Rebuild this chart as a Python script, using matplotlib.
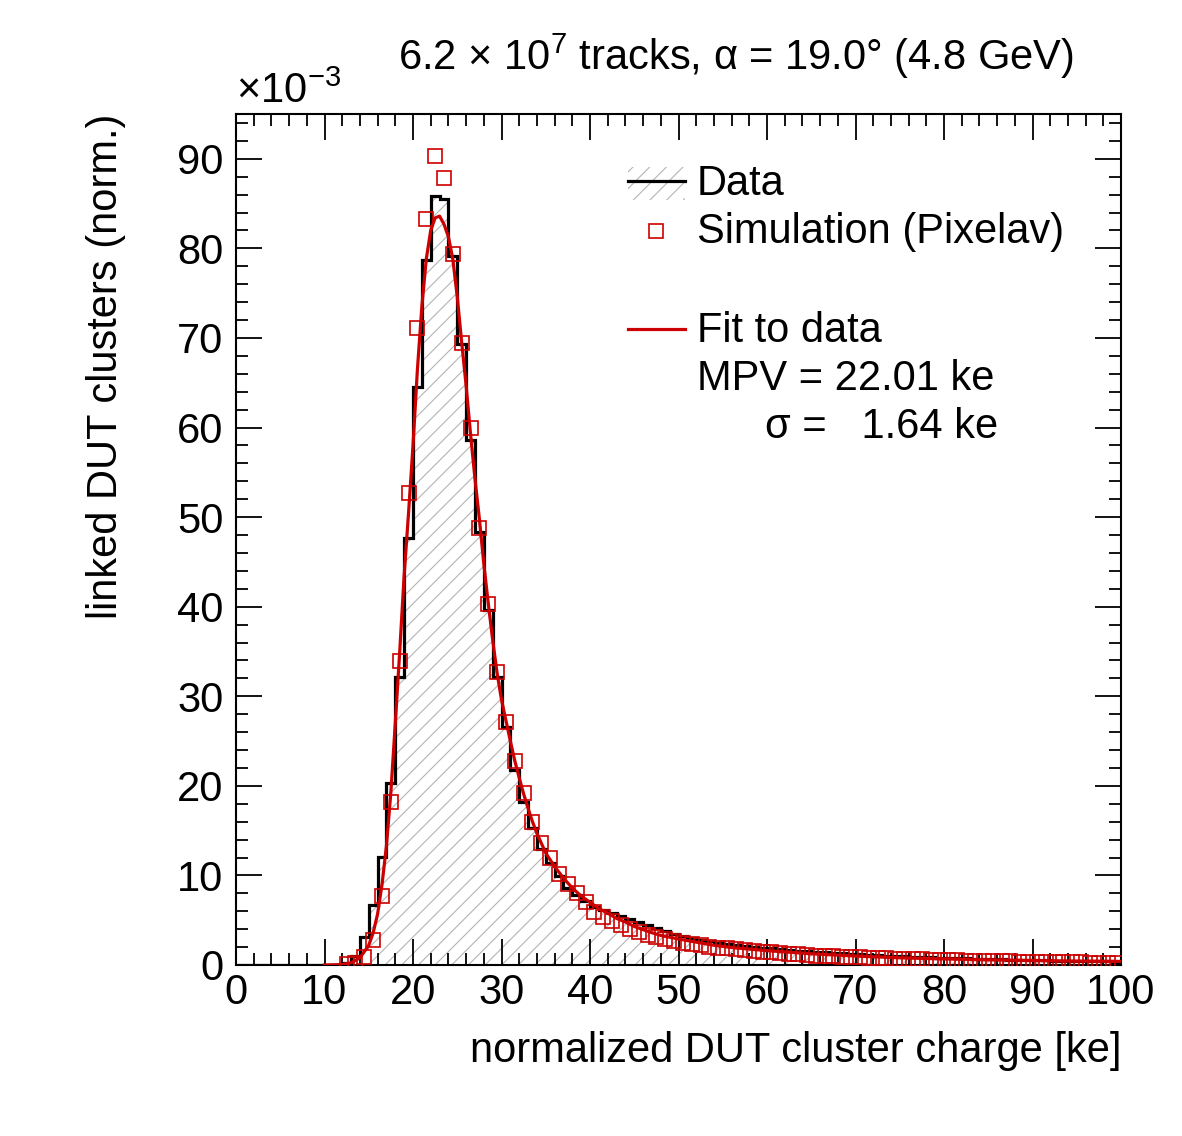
import numpy as np
import matplotlib
matplotlib.use("Agg")
import matplotlib.pyplot as plt
from matplotlib.patches import Rectangle
from matplotlib.lines import Line2D

# --- data (values in units of 10^-3) ---
bin_edges = np.arange(0, 101, 1)  # 1 ke bins, 0..100 ke

data_counts = [
    0, 0, 0, 0, 0, 0, 0, 0, 0, 0, 0, 0,
    0.2, 1.0, 3.1, 6.7, 12.1, 20.3, 32.2, 47.7, 64.5, 78.7,
    85.8, 85.5, 79.1, 69.3, 58.6, 48.3, 39.6, 32.2, 26.6, 21.8,
    18.2, 15.3, 13.0, 11.4, 9.9, 8.6, 7.8, 7.1, 6.5, 6.1,
    5.8, 5.5, 5.1, 4.8, 4.5, 4.1, 3.8, 3.5, 3.2, 3.0,
    2.8, 2.65, 2.5, 2.4, 2.25, 2.15, 2.05, 1.95, 1.85, 1.75,
    1.7, 1.6, 1.55, 1.5, 1.4, 1.35, 1.3, 1.25, 1.2, 1.15,
    1.1, 1.05, 1.0, 0.95, 0.92, 0.88, 0.85, 0.82, 0.8, 0.77,
    0.74, 0.71, 0.68, 0.65, 0.63, 0.6, 0.58, 0.56, 0.54, 0.52,
    0.5, 0.48, 0.46, 0.45, 0.43, 0.42, 0.4, 0.39,
]

sim_charge = np.arange(12.5, 100.0, 1.0)  # bin centres
sim_counts = [
    0.1, 0.2, 0.9, 2.8, 7.7, 18.2, 33.9, 52.7, 71.1, 83.3,
    90.3, 87.8, 79.4, 69.4, 60.0, 48.8, 40.3, 32.7, 27.1, 22.8,
    19.2, 16.0, 13.6, 11.9, 10.2, 9.0, 8.0, 7.0, 5.9, 5.4,
    4.9, 4.5, 4.0, 3.7, 3.3, 3.1, 2.9, 2.7, 2.5, 2.35,
    2.2, 2.05, 1.95, 1.85, 1.75, 1.65, 1.55, 1.45, 1.4, 1.3,
    1.25, 1.2, 1.1, 1.05, 1.0, 0.95, 0.9, 0.88, 0.85, 0.8,
    0.78, 0.75, 0.7, 0.68, 0.65, 0.62, 0.6, 0.57, 0.55, 0.52,
    0.5, 0.48, 0.46, 0.44, 0.42, 0.4, 0.38, 0.37, 0.35, 0.33,
    0.32, 0.3, 0.29, 0.28, 0.26, 0.25, 0.24, 0.23,
]

fit_x = [10, 12, 13, 14, 15, 15.5, 16, 16.5, 17, 17.5, 18, 18.5, 19, 19.5,
         20, 20.5, 21, 21.5, 22, 22.5, 23, 23.5, 24, 24.5, 25, 25.5, 26, 26.5,
         27, 27.5, 28, 28.5, 29, 29.5, 30, 30.5, 31, 31.5, 32, 32.5, 33, 33.5,
         34, 35, 36, 37, 38, 39, 40, 41, 42, 43, 44, 45, 46, 47, 48, 50, 52,
         54, 56, 60, 65, 70, 75, 80, 85, 90, 95, 100]
fit_y = [0, 0.05, 0.25, 0.8, 2.2, 3.6, 5.7, 9.0, 13.3, 19.3, 27, 35, 43.5, 50.5,
         58, 66.5, 73.5, 78.8, 82, 83.4, 83.6, 82.7, 81.3, 78.8, 74.6, 69.5, 64.7, 59.3,
         54.3, 49.8, 44.8, 40.4, 36.3, 32.6, 29.6, 27.3, 25.0, 22.8, 20.9, 19.1, 17.5, 16.0,
         14.7, 12.5, 11.0, 9.7, 8.6, 7.7, 7.0, 6.3, 5.8, 5.2, 4.8, 4.3, 3.95, 3.6, 3.3, 2.9, 2.55,
         2.2, 1.95, 1.6, 1.25, 1.0, 0.8, 0.68, 0.58, 0.5, 0.44, 0.4]

x_ticks = list(range(0, 101, 10))
y_ticks = list(range(0, 91, 10))

RED = "#cc0000"
FS = 30

plt.rcParams["font.family"] = ["Liberation Sans", "DejaVu Sans"]
plt.rcParams["font.size"] = FS
plt.rcParams["mathtext.fontset"] = "custom"
plt.rcParams["mathtext.rm"] = "Liberation Sans"
plt.rcParams["mathtext.it"] = "Liberation Sans:italic"
plt.rcParams["mathtext.bf"] = "Liberation Sans:bold"
plt.rcParams["mathtext.default"] = "regular"
plt.rcParams["hatch.linewidth"] = 0.8


def main():
    fig = plt.figure(figsize=(11.82, 11.36), dpi=100)
    ax = fig.add_axes([236 / 1182, 1 - 965 / 1136, 885 / 1182, 851 / 1136])

    # hatched fill + black outline for the data histogram
    ax.stairs(data_counts, bin_edges, fill=True, hatch="//",
              facecolor="none", edgecolor="#b4b4b4", linewidth=0, zorder=1)
    ax.stairs(data_counts, bin_edges, color="black", linewidth=2.3, zorder=2)

    # simulation
    ax.plot(sim_charge, sim_counts, linestyle="none", marker="s", markersize=9.5,
            markerfacecolor="none", markeredgecolor=RED, markeredgewidth=1.2, zorder=3)

    # fit
    ax.plot(fit_x, fit_y, color=RED, linewidth=2.3, zorder=4)

    ax.set_xlim(0, 100)
    ax.set_ylim(0, 95)
    ax.set_xticks(x_ticks)
    ax.set_yticks(y_ticks)
    ax.set_xticks(np.arange(0, 101, 2), minor=True)
    ax.set_yticks(np.arange(0, 95, 2), minor=True)
    ax.tick_params(which="both", direction="in", top=True, right=True, width=1.3)
    ax.tick_params(which="major", length=18.5)
    ax.tick_params(which="minor", length=8.5)
    ax.tick_params(axis="x", which="major", pad=6, labelsize=FS)
    ax.tick_params(axis="y", which="major", pad=9, labelsize=FS)
    for s in ax.spines.values():
        s.set_linewidth(1.5)

    ax.set_xlabel("normalized DUT cluster charge [ke]", loc="right", fontsize=FS)
    ax.xaxis.set_label_coords(1.0, -0.078)
    ax.set_ylabel("linked DUT clusters (norm.)", loc="top", fontsize=FS)
    ax.yaxis.set_label_coords(-0.124, 1.0)

    # exponent and title
    fig.text(236 / 1182, 1 - 103 / 1136, "×10$^{-3}$", fontsize=FS,
             ha="left", va="baseline")
    fig.text(398 / 1182, 1 - 70 / 1136,
             "6.2 × 10$^{7}$ tracks, α = 19.0° (4.8 GeV)",
             fontsize=FS, ha="left", va="baseline")

    # legend drawn by hand (ROOT style)
    tr = ax.transAxes
    ax.add_patch(Rectangle((0.443, 0.899), 0.064, 0.039, transform=tr,
                           facecolor="none", edgecolor="#b4b4b4", linewidth=0,
                           hatch="//", clip_on=False))
    ax.add_line(Line2D([0.443, 0.507], [0.921, 0.921], transform=tr,
                       color="black", linewidth=2.3, clip_on=False))
    ax.add_line(Line2D([0.4746], [0.8625], transform=tr, marker="s",
                       markersize=9.5, markerfacecolor="none",
                       markeredgecolor=RED, markeredgewidth=1.2, clip_on=False))
    ax.add_line(Line2D([0.443, 0.507], [0.747, 0.747], transform=tr,
                       color=RED, linewidth=2.3, clip_on=False))
    ax.text(0.521, 0.9048, "Data", transform=tr, va="baseline", fontsize=FS)
    ax.text(0.521, 0.8484, "Simulation (Pixelav)", transform=tr, va="baseline", fontsize=FS)
    ax.text(0.521, 0.7321, "Fit to data", transform=tr, va="baseline", fontsize=FS)
    ax.text(0.521, 0.6757, "MPV = 22.01 ke", transform=tr, va="baseline", fontsize=FS)
    ax.text(0.598, 0.6193, "σ =   1.64 ke", transform=tr, va="baseline", fontsize=FS)

    fig.savefig("out.png", dpi=100)


if __name__ == "__main__":
    main()
